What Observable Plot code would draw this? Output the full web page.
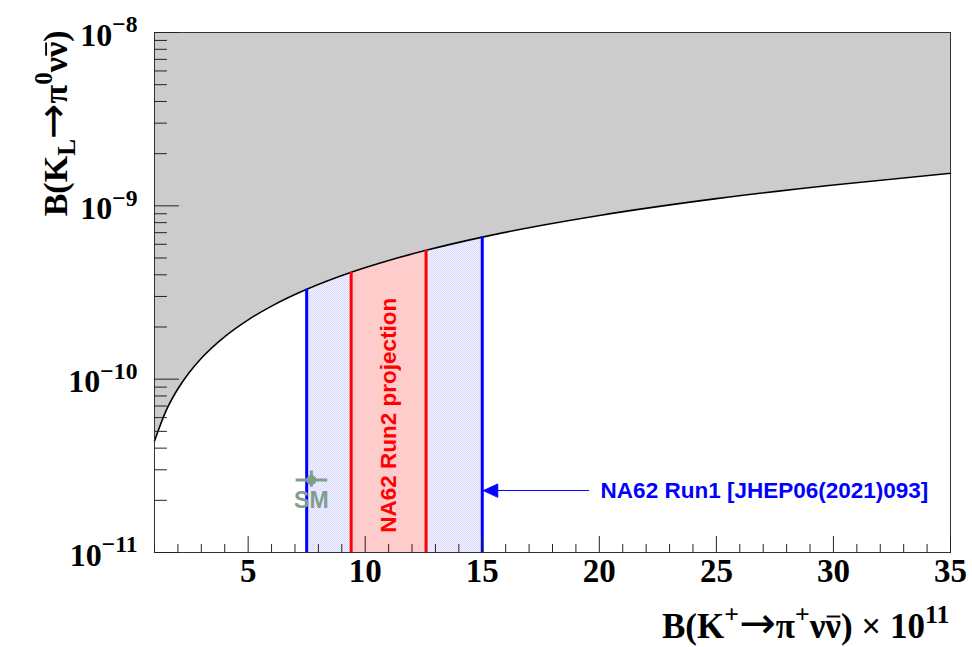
<!DOCTYPE html>
<html>
<head>
<meta charset="utf-8">
<script src="https://cdn.jsdelivr.net/npm/d3@7"></script>
<script src="https://cdn.jsdelivr.net/npm/@observablehq/plot@0.6"></script>
<style>
  html, body { margin: 0; padding: 0; background: #ffffff; }
  #chart { width: 972px; height: 647px; }
</style>
</head>
<body>
<div id="chart"></div>
<script>
// Grossman–Nir bound: upper limit on B(KL→π0νν̄) as a function of B(K+→π+νν̄) (×1e-11)
const gnX = [1, 1.5, 2, 2.5, 3, 4, 5, 6, 7.5, 9.4, 11, 12.6, 15, 17.5, 20, 25, 30, 35];
const gnY = [4.4e-11, 6.6e-11, 8.8e-11, 1.1e-10, 1.32e-10, 1.76e-10, 2.2e-10, 2.64e-10, 3.3e-10,
             4.14e-10, 4.84e-10, 5.54e-10, 6.6e-10, 7.7e-10, 8.8e-10, 1.1e-9, 1.32e-9, 1.54e-9];

// Measured / projected ranges of B(K+→π+νν̄) ×1e-11
const run1Range = [7.5, 15.0];   // NA62 Run1 [JHEP06(2021)093]
const run2Range = [9.4, 12.6];   // NA62 Run2 projection

// Standard Model point
const smX = [7.7];
const smY = [2.62e-11];
const smXErr = [[7.05, 8.4]];
const smYErr = [[2.38e-11, 2.95e-11]];

// Run1 annotation arrow (from label back to the band edge)
const arrowX = [19.5, 15.0];
const arrowY = [2.28e-11];

// Axes
const xDomain = [1, 35];
const yDomain = [1e-11, 1e-8];
const xMajor = [5, 10, 15, 20, 25, 30, 35];
const xMajorLabels = ["5", "10", "15", "20", "25", "30", "35"];
const xMinor = d3.range(1, 36).filter(v => v % 5 !== 0);
const yMajor = [1e-11, 1e-10, 1e-9, 1e-8];
const yMajorLabels = ["10^{−11}", "10^{−10}", "10^{−9}", "10^{−8}"];
const yMinor = [1e-11, 1e-10, 1e-9].flatMap(p => d3.range(2, 10).map(k => k * p));

const xTitle = "B(K^{+}→π^{+}ν#bar{ν}) × 10^{11}";
const yTitle = "B(K_{L}→π^{0}ν#bar{ν})";
const run2Label = "NA62 Run2 projection";
const run1Label = "NA62 Run1 [JHEP06(2021)093]";
const smLabel = "SM";

// Tables for the marks
const gn = gnX.map((x, i) => ({x, y: gnY[i]}));
const inRange = ([lo, hi]) => gn.filter(d => d.x >= lo - 1e-9 && d.x <= hi + 1e-9);
const run1Band = inRange(run1Range);
const run2Band = inRange(run2Range);
const topAt = x => gn.find(d => Math.abs(d.x - x) < 1e-9).y;
const run1Edges = run1Range.map(x => ({x, top: topAt(x)}));
const run2Edges = run2Range.map(x => ({x, top: topAt(x)}));

const BLUE = "#0000ff";
const RED = "#ff0000";
const SMCOL = "#7f9f8e";
const SERIF = "'Liberation Serif', 'Times New Roman', serif";
const SANS = "'Liberation Sans', Arial, Helvetica, sans-serif";

// Tick shapes drawn from the anchor point (pointing "up", rotated per axis)
const tickShape = {draw(ctx, l) { ctx.moveTo(0, 0); ctx.lineTo(0, -l); }};
const headShape = {draw(ctx) { ctx.moveTo(0, 0); ctx.lineTo(-6.5, -14); ctx.lineTo(6.5, -14); ctx.closePath(); }};

const plot = Plot.plot({
  width: 972,
  height: 647,
  marginLeft: 154,
  marginTop: 32,
  marginRight: 22,
  marginBottom: 95,
  x: {domain: xDomain, axis: null},
  y: {type: "log", domain: yDomain, axis: null},
  style: {background: "#ffffff", overflow: "visible"},
  marks: [
    // excluded region above the bound
    Plot.areaY(gn, {x: "x", y1: "y", y2: yDomain[1], fill: "#cccccc", curve: "monotone-x"}),
    // Run1 band (hatched light blue)
    Plot.areaY(run1Band, {x: "x", y1: yDomain[0], y2: "y", fill: "url(#run1hatch)", curve: "monotone-x"}),
    // Run2 band
    Plot.areaY(run2Band, {x: "x", y1: yDomain[0], y2: "y", fill: "#ffcccc", curve: "monotone-x"}),
    // bound curve
    Plot.line(gn, {x: "x", y: "y", stroke: "#000000", strokeWidth: 1.6, curve: "monotone-x"}),
    // band edges
    Plot.ruleX(run1Edges, {x: "x", y1: yDomain[0], y2: "top", stroke: BLUE, strokeWidth: 3}),
    Plot.ruleX(run2Edges, {x: "x", y1: yDomain[0], y2: "top", stroke: RED, strokeWidth: 3}),
    // Standard Model point
    Plot.ruleY(smX, {y: (d, i) => smY[i], x1: (d, i) => smXErr[i][0], x2: (d, i) => smXErr[i][1], stroke: SMCOL, strokeWidth: 3}),
    Plot.ruleX(smX, {x: d => d, y1: (d, i) => smYErr[i][0], y2: (d, i) => smYErr[i][1], stroke: SMCOL, strokeWidth: 3}),
    Plot.dot(smX, {x: d => d, y: (d, i) => smY[i], r: 5, fill: SMCOL, stroke: "none"}),
    Plot.text(smX, {x: d => d, y: (d, i) => smY[i], text: () => smLabel, dy: 21, fill: SMCOL,
      fontFamily: SANS, fontWeight: "bold", fontSize: 23}),
    // Run2 label
    Plot.text([run2Label], {x: d3.mean(run2Range), y: 6.2e-11, text: d => d, rotate: -90, fill: RED,
      fontFamily: SANS, fontWeight: "bold", fontSize: 22.5}),
    // Run1 annotation
    Plot.link(arrowY, {x1: arrowX[0], x2: arrowX[1], y1: d => d, y2: d => d, stroke: BLUE, strokeWidth: 1, dx: 1.5}),
    Plot.vector(arrowY, {x: arrowX[1], y: d => d, rotate: 90, length: 14, anchor: "start", shape: headShape,
      fill: BLUE, stroke: BLUE, strokeWidth: 1, dx: 1.5}),
    Plot.text([run1Label], {x: arrowX[0], y: arrowY[0], text: d => d, dx: 13, textAnchor: "start", fill: BLUE,
      fontFamily: SANS, fontWeight: "bold", fontSize: 22.5}),
    // frame
    Plot.frame({stroke: "#333333", strokeWidth: 1}),
    // inward ticks, x axis
    Plot.vector(xMinor, {x: d => d, y: yDomain[0], length: 8, anchor: "start", shape: tickShape, stroke: "#222", strokeWidth: 1}),
    Plot.vector(xMajor, {x: d => d, y: yDomain[0], length: 16, anchor: "start", shape: tickShape, stroke: "#222", strokeWidth: 1}),
    // inward ticks, y axis
    Plot.vector(yMinor, {x: xDomain[0], y: d => d, rotate: 90, length: 12, anchor: "start", shape: tickShape, stroke: "#222", strokeWidth: 1}),
    Plot.vector(yMajor, {x: xDomain[0], y: d => d, rotate: 90, length: 24, anchor: "start", shape: tickShape, stroke: "#222", strokeWidth: 1}),
    // tick labels
    Plot.text(xMajor, {x: d => d, text: (d, i) => xMajorLabels[i], frameAnchor: "bottom", dy: 29,
      fontFamily: SERIF, fontWeight: "bold", fontSize: 33, fill: "#000"}),
    Plot.text(yMajor, {y: d => d, text: (d, i) => yMajorLabels[i], frameAnchor: "left", dx: -17, dy: 3,
      textAnchor: "end", fontFamily: SERIF, fontWeight: "bold", fontSize: 32, fill: "#000"}),
    // axis titles
    Plot.text([xTitle], {text: d => d, frameAnchor: "bottom-right", dy: 85, dx: -1, textAnchor: "end",
      lineAnchor: "bottom", fontFamily: SERIF, fontWeight: "bold", fontSize: 35, fill: "#000"}),
    Plot.text([yTitle], {text: d => d, frameAnchor: "top-left", dx: -88, dy: -2, rotate: -90, textAnchor: "end",
      lineAnchor: "bottom", fontFamily: SERIF, fontWeight: "bold", fontSize: 34, fill: "#000"})
  ]
});

document.getElementById("chart").appendChild(plot);

// Fine checker pattern for the Run1 band
const svg = d3.select(plot);
const defs = svg.insert("defs", ":first-child");
const pat = defs.append("pattern").attr("id", "run1hatch").attr("patternUnits", "userSpaceOnUse")
  .attr("width", 2).attr("height", 2);
pat.append("rect").attr("width", 2).attr("height", 2).attr("fill", "#f2f2ff");
pat.append("rect").attr("width", 1).attr("height", 1).attr("fill", "#dadaff");
pat.append("rect").attr("x", 1).attr("y", 1).attr("width", 1).attr("height", 1).attr("fill", "#dadaff");

// Rich text: ^{sup}, _{sub}, #bar{overline}; arrows get a font with a long arrow glyph
function parseRich(s) {
  const out = [];
  const re = /(\^|_|#bar)\{([^}]*)\}/g;
  let last = 0, m;
  const pushNormal = str => str.split(/(→)/).filter(t => t).forEach(t =>
    out.push({text: t, mode: t === "→" ? "arrow" : "normal"}));
  while ((m = re.exec(s))) {
    if (m.index > last) pushNormal(s.slice(last, m.index));
    out.push({text: m[2], mode: m[1] === "^" ? "sup" : m[1] === "_" ? "sub" : "bar"});
    last = re.lastIndex;
  }
  if (last < s.length) pushNormal(s.slice(last));
  return out;
}
const NS = "http://www.w3.org/2000/svg";
const bars = [];
svg.selectAll("text").each(function() {
  const src = this.textContent;
  if (!/(\^|_|#bar)\{|→/.test(src)) return;
  const fs = parseFloat(getComputedStyle(this).fontSize);
  const segs = parseRich(src);
  this.textContent = "";
  let cur = 0, idx = 0;
  for (const s of segs) {
    const t = document.createElementNS(NS, "tspan");
    let target = 0, size = fs;
    if (s.mode === "sup") { target = -0.42 * fs; size = 0.74 * fs; }
    if (s.mode === "sub") { target = 0.26 * fs; size = 0.74 * fs; }
    if (s.mode === "arrow") { target = 0.02 * fs; size = 1.25 * fs; t.setAttribute("font-family", "'DejaVu Sans'"); t.setAttribute("font-weight", "normal"); }
    if (target - cur !== 0) t.setAttribute("dy", target - cur);
    cur = target;
    t.setAttribute("font-size", size);
    t.textContent = s.text;
    this.appendChild(t);
    if (s.mode === "bar") bars.push({el: this, index: idx, length: s.text.length, fs: size});
    idx += s.text.length;
  }
});
// Overbars drawn as short lines just above the barred glyphs
for (const b of bars) {
  const p0 = b.el.getStartPositionOfChar(b.index);
  const p1 = b.el.getEndPositionOfChar(b.index + b.length - 1);
  const line = document.createElementNS(NS, "line");
  line.setAttribute("x1", p0.x + 0.04 * b.fs);
  line.setAttribute("x2", p1.x - 0.02 * b.fs);
  line.setAttribute("y1", p0.y - 0.6 * b.fs);
  line.setAttribute("y2", p0.y - 0.6 * b.fs);
  line.setAttribute("stroke", "#000");
  line.setAttribute("stroke-width", 0.055 * b.fs);
  const tr = b.el.getAttribute("transform");
  if (tr) line.setAttribute("transform", tr);
  b.el.parentNode.appendChild(line);
}
</script>
</body>
</html>
